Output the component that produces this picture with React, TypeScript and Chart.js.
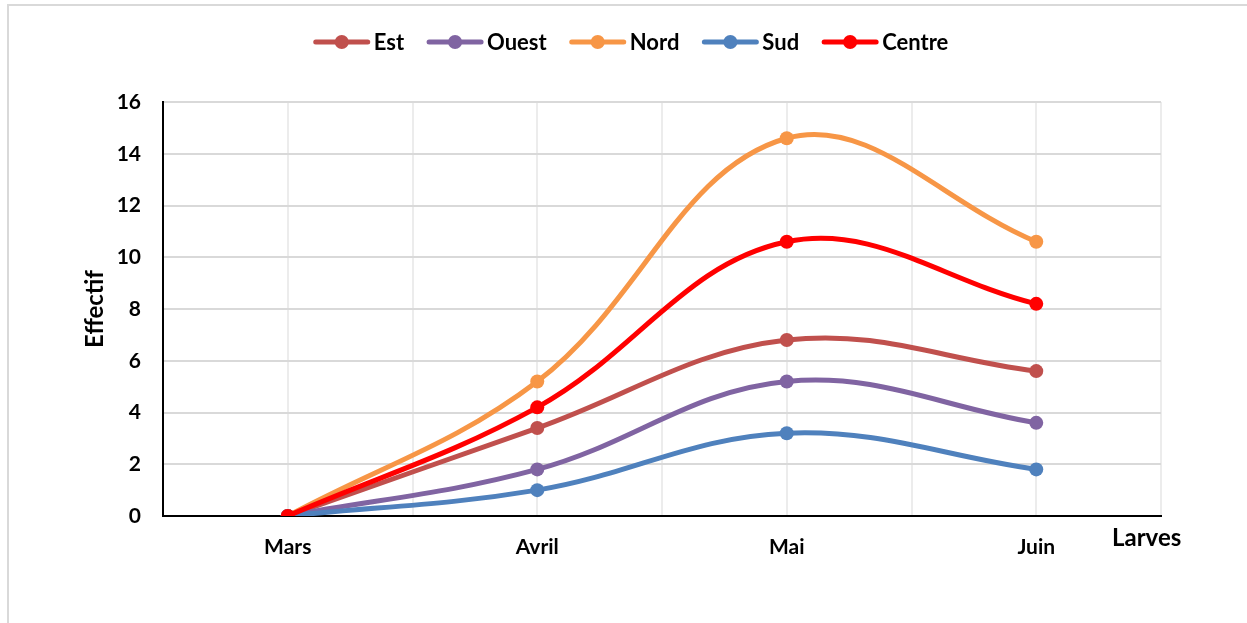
import React, { useEffect, useRef } from "react";
import { Chart, registerables } from "chart.js";

Chart.register(...registerables);

const categories = ["Mars", "Avril", "Mai", "Juin"];
const est = [0, 3.4, 6.8, 5.6];
const ouest = [0, 1.8, 5.2, 3.6];
const nord = [0, 5.2, 14.6, 10.6];
const sud = [0, 1.0, 3.2, 1.8];
const centre = [0, 4.2, 10.6, 8.2];
const seriesNames = ["Est", "Ouest", "Nord", "Sud", "Centre"];
const seriesColors = ["#C0504D", "#8064A2", "#F79646", "#4F81BD", "#FF0000"];
const yTicks = [0, 2, 4, 6, 8, 10, 12, 14, 16];
const yTitle = "Effectif";
const xTitle = "Larves";

const FONT = "Lato, 'Open Sans', sans-serif";

export default function App() {
  const ref = useRef<HTMLCanvasElement>(null);
  useEffect(() => {
    if (!ref.current) return;
    const all = [est, ouest, nord, sud, centre];
    const datasets = all.map((vals, i) => ({
      label: seriesNames[i],
      data: vals.map((v, j) => ({ x: j, y: v })),
      borderColor: seriesColors[i],
      backgroundColor: seriesColors[i],
      pointBackgroundColor: seriesColors[i],
      pointBorderColor: seriesColors[i],
      borderWidth: 5,
      pointRadius: 7,
      pointBorderWidth: 0,
      tension: 0.38,
      fill: false,
      order: all.length - i,
    }));

    const legendPlugin = {
      id: "customLegend",
      afterDraw(chart: any) {
        const ctx = chart.ctx;
        ctx.save();
        ctx.font = `bold 22px ${FONT}`;
        const lineW = 52;
        const gapText = 6;
        const gapItem = 25;
        const widths = seriesNames.map((n) => lineW + gapText + ctx.measureText(n).width);
        const total = widths.reduce((a, b) => a + b, 0) + gapItem * (widths.length - 1);
        let x = 632 - total / 2;
        const y = 42;
        seriesNames.forEach((n, i) => {
          ctx.strokeStyle = seriesColors[i];
          ctx.lineWidth = 5;
          ctx.lineCap = "round";
          ctx.beginPath();
          ctx.moveTo(x, y);
          ctx.lineTo(x + lineW, y);
          ctx.stroke();
          ctx.fillStyle = seriesColors[i];
          ctx.beginPath();
          ctx.arc(x + lineW / 2, y, 7, 0, Math.PI * 2);
          ctx.fill();
          ctx.fillStyle = "#000";
          ctx.textBaseline = "middle";
          ctx.textAlign = "left";
          ctx.fillText(n, x + lineW + gapText, y + 1);
          x += widths[i] + gapItem;
        });
        ctx.font = `bold 24px ${FONT}`;
        ctx.fillText(xTitle, 1112, 538);
        ctx.restore();
      },
    };

    const chart = new Chart(ref.current, {
      type: "line",
      data: { datasets },
      options: {
        responsive: false,
        animation: false,
        devicePixelRatio: 1,
        layout: { padding: { top: 102, left: 70, right: 86, bottom: 0 } },
        plugins: {
          legend: { display: false },
          tooltip: { enabled: false },
        },
        scales: {
          x: {
            type: "linear",
            min: -0.5,
            max: 3.5,
            afterFit(scale: any) {
              scale.height = 107;
            },
            afterBuildTicks(scale: any) {
              const t = [];
              for (let v = -0.5; v <= 3.5 + 1e-9; v += 0.5) t.push({ value: v });
              scale.ticks = t;
            },
            ticks: {
              autoSkip: false,
              maxRotation: 0,
              padding: 19,
              color: "#000",
              font: { family: FONT, size: 21, weight: "bold" },
              callback: (v: any) => {
                const n = Number(v);
                return Number.isInteger(n) && categories[n] ? categories[n] : "";
              },
            },
            grid: { color: "#ececec", lineWidth: 2, drawTicks: false },
            border: { color: "#000", width: 2 },
          },
          y: {
            min: 0,
            max: 16,
            afterFit(scale: any) {
              scale.width = 93;
            },
            afterBuildTicks(scale: any) {
              scale.ticks = yTicks.map((v) => ({ value: v }));
            },
            ticks: {
              padding: 22,
              color: "#000",
              font: { family: FONT, size: 21, weight: "bold" },
            },
            grid: { color: "#d9d9d9", lineWidth: 2, drawTicks: false },
            border: { color: "#000", width: 2 },
            title: {
              display: true,
              text: yTitle,
              color: "#000",
              padding: { top: 11, bottom: 0 },
              font: { family: FONT, size: 24, weight: "bold" },
            },
          },
        },
      } as any,
      plugins: [legendPlugin],
    });
    return () => chart.destroy();
  }, []);

  return (
    <div style={{ position: "fixed", left: 0, top: 0, width: 1247, height: 623, background: "#fff", overflow: "hidden" }}>
      <div
        style={{
          position: "absolute",
          left: 7,
          top: 4,
          width: 1300,
          height: 700,
          borderTop: "2px solid #d9d9d9",
          borderLeft: "2px solid #d9d9d9",
        }}
      />
      <canvas ref={ref} width={1247} height={623} style={{ position: "absolute", left: 0, top: 0, width: 1247, height: 623 }} />
    </div>
  );
}
